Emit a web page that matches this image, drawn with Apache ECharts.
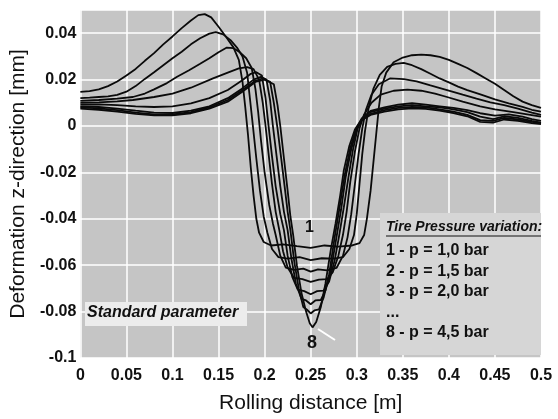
<!DOCTYPE html>
<html>
<head>
<meta charset="utf-8">
<script src="https://cdn.jsdelivr.net/npm/echarts@6.0.0/dist/echarts.min.js"></script>
<style>
html,body{margin:0;padding:0;background:#fff;}
#chart{width:558px;height:419px;}
</style>
</head>
<body>
<div id="chart"></div>
<script>
// x tick values (m) and y tick values (mm)
const xTicks = [0, 0.05, 0.1, 0.15, 0.2, 0.25, 0.3, 0.35, 0.4, 0.45, 0.5];
const yTicks = [-0.1, -0.08, -0.06, -0.04, -0.02, 0, 0.02, 0.04];

const seriesNames = ['1 - p = 1,0 bar','2 - p = 1,5 bar','3 - p = 2,0 bar','4 - p = 2,5 bar','5 - p = 3,0 bar','6 - p = 3,5 bar','7 - p = 4,0 bar','8 - p = 4,5 bar'];

const curve1 = [[0,0.0147],[0.01,0.0150],[0.02,0.0158],[0.03,0.0172],[0.04,0.0192],[0.05,0.0218],[0.06,0.0246],[0.07,0.0281],[0.08,0.0314],[0.09,0.0352],[0.10,0.0386],[0.11,0.0422],[0.12,0.0455],[0.128,0.0478],[0.135,0.0482],[0.142,0.0468],[0.150,0.0428],[0.158,0.0385],[0.166,0.0340],[0.172,0.0285],[0.176,0.0190],[0.179,0.0080],[0.182,-0.0040],[0.185,-0.0180],[0.188,-0.0300],[0.191,-0.0400],[0.194,-0.0460],[0.199,-0.0500],[0.207,-0.0515],[0.22,-0.0510],[0.235,-0.0518],[0.25,-0.0525],[0.265,-0.0515],[0.28,-0.0520],[0.295,-0.0515],[0.303,-0.0505],[0.308,-0.0470],[0.311,-0.0400],[0.315,-0.0280],[0.318,-0.0160],[0.321,-0.0040],[0.324,0.0080],[0.327,0.0170],[0.332,0.0230],[0.340,0.0275],[0.350,0.0295],[0.360,0.0305],[0.370,0.0308],[0.380,0.0305],[0.390,0.0298],[0.400,0.0285],[0.410,0.0268],[0.420,0.0250],[0.430,0.0228],[0.440,0.0205],[0.450,0.0182],[0.460,0.0155],[0.470,0.0128],[0.480,0.0105],[0.490,0.0090],[0.500,0.0078]];
const curve2 = [[0,0.0120],[0.01,0.0122],[0.02,0.0125],[0.03,0.0128],[0.04,0.0134],[0.05,0.0148],[0.06,0.0172],[0.07,0.0203],[0.08,0.0232],[0.09,0.0262],[0.10,0.0292],[0.11,0.0320],[0.12,0.0352],[0.13,0.0378],[0.14,0.0398],[0.147,0.0405],[0.155,0.0395],[0.163,0.0370],[0.170,0.0338],[0.176,0.0300],[0.181,0.0230],[0.184,0.0120],[0.187,0.0010],[0.191,-0.0140],[0.195,-0.0280],[0.199,-0.0390],[0.203,-0.0460],[0.208,-0.0530],[0.215,-0.0565],[0.225,-0.0572],[0.238,-0.0565],[0.25,-0.0578],[0.262,-0.0570],[0.275,-0.0572],[0.285,-0.0565],[0.292,-0.0530],[0.297,-0.0470],[0.300,-0.0380],[0.303,-0.0250],[0.306,-0.0120],[0.309,-0.0020],[0.313,0.0080],[0.318,0.0160],[0.325,0.0220],[0.333,0.0255],[0.342,0.0268],[0.351,0.0272],[0.360,0.0262],[0.370,0.0245],[0.380,0.0225],[0.390,0.0205],[0.400,0.0188],[0.410,0.0170],[0.420,0.0155],[0.435,0.0135],[0.450,0.0115],[0.465,0.0098],[0.480,0.0082],[0.490,0.0070],[0.500,0.0062]];
const curve3 = [[0,0.0108],[0.02,0.0112],[0.04,0.0118],[0.057,0.0125],[0.07,0.0140],[0.08,0.0158],[0.094,0.0185],[0.105,0.0212],[0.118,0.0240],[0.13,0.0268],[0.14,0.0292],[0.15,0.0318],[0.159,0.0338],[0.166,0.0336],[0.173,0.0318],[0.180,0.0292],[0.186,0.0250],[0.190,0.0160],[0.193,0.0060],[0.196,-0.0060],[0.200,-0.0200],[0.205,-0.0340],[0.209,-0.0420],[0.212,-0.0470],[0.217,-0.0560],[0.223,-0.0610],[0.232,-0.0620],[0.242,-0.0615],[0.25,-0.0628],[0.258,-0.0618],[0.268,-0.0622],[0.278,-0.0612],[0.285,-0.0560],[0.290,-0.0480],[0.294,-0.0380],[0.298,-0.0250],[0.302,-0.0120],[0.306,-0.0010],[0.310,0.0070],[0.316,0.0135],[0.324,0.0180],[0.336,0.0205],[0.351,0.0202],[0.365,0.0192],[0.380,0.0175],[0.398,0.0155],[0.415,0.0135],[0.430,0.0118],[0.445,0.0102],[0.460,0.0090],[0.475,0.0075],[0.490,0.0058],[0.500,0.0048]];
const curve4 = [[0,0.0100],[0.02,0.0102],[0.04,0.0106],[0.057,0.0112],[0.08,0.0125],[0.10,0.0140],[0.12,0.0165],[0.144,0.0205],[0.16,0.0230],[0.172,0.0248],[0.181,0.0254],[0.188,0.0245],[0.194,0.0200],[0.198,0.0100],[0.201,0.0000],[0.204,-0.0110],[0.208,-0.0250],[0.212,-0.0370],[0.216,-0.0450],[0.220,-0.0540],[0.225,-0.0610],[0.232,-0.0655],[0.241,-0.0660],[0.25,-0.0672],[0.259,-0.0662],[0.268,-0.0660],[0.274,-0.0630],[0.280,-0.0560],[0.285,-0.0470],[0.289,-0.0370],[0.293,-0.0240],[0.298,-0.0110],[0.303,-0.0010],[0.308,0.0050],[0.316,0.0100],[0.326,0.0135],[0.340,0.0152],[0.355,0.0157],[0.370,0.0152],[0.385,0.0140],[0.398,0.0125],[0.415,0.0105],[0.434,0.0085],[0.450,0.0072],[0.470,0.0060],[0.485,0.0050],[0.500,0.0040]];
const curve5 = [[0,0.0092],[0.02,0.0093],[0.04,0.0090],[0.06,0.0085],[0.08,0.0082],[0.10,0.0085],[0.12,0.0098],[0.14,0.0120],[0.16,0.0155],[0.175,0.0195],[0.185,0.0225],[0.191,0.0232],[0.197,0.0218],[0.201,0.0120],[0.204,0.0010],[0.208,-0.0130],[0.212,-0.0260],[0.217,-0.0380],[0.221,-0.0450],[0.225,-0.0560],[0.230,-0.0650],[0.236,-0.0705],[0.243,-0.0712],[0.25,-0.0725],[0.257,-0.0712],[0.264,-0.0710],[0.270,-0.0670],[0.276,-0.0580],[0.281,-0.0470],[0.286,-0.0350],[0.291,-0.0220],[0.296,-0.0100],[0.301,-0.0010],[0.306,0.0035],[0.315,0.0065],[0.330,0.0080],[0.345,0.0092],[0.360,0.0098],[0.375,0.0092],[0.390,0.0085],[0.405,0.0078],[0.420,0.0068],[0.434,0.0055],[0.450,0.0045],[0.465,0.0050],[0.480,0.0040],[0.490,0.0030],[0.500,0.0022]];
const curve6 = [[0,0.0085],[0.02,0.0082],[0.04,0.0075],[0.06,0.0066],[0.08,0.0058],[0.10,0.0056],[0.12,0.0066],[0.14,0.0085],[0.16,0.0120],[0.175,0.0160],[0.188,0.0200],[0.196,0.0212],[0.202,0.0200],[0.206,0.0110],[0.209,0.0000],[0.213,-0.0130],[0.217,-0.0260],[0.221,-0.0370],[0.225,-0.0450],[0.229,-0.0570],[0.234,-0.0680],[0.240,-0.0745],[0.245,-0.0752],[0.25,-0.0768],[0.255,-0.0752],[0.261,-0.0750],[0.266,-0.0710],[0.272,-0.0620],[0.278,-0.0480],[0.283,-0.0360],[0.288,-0.0220],[0.294,-0.0100],[0.300,-0.0015],[0.305,0.0030],[0.315,0.0060],[0.330,0.0075],[0.345,0.0085],[0.360,0.0090],[0.375,0.0085],[0.390,0.0080],[0.405,0.0072],[0.420,0.0060],[0.434,0.0040],[0.448,0.0030],[0.460,0.0042],[0.475,0.0035],[0.490,0.0022],[0.500,0.0015]];
const curve7 = [[0,0.0080],[0.02,0.0076],[0.04,0.0068],[0.06,0.0058],[0.08,0.0050],[0.10,0.0050],[0.12,0.0060],[0.14,0.0080],[0.16,0.0112],[0.175,0.0152],[0.19,0.0195],[0.198,0.0205],[0.206,0.0190],[0.210,0.0100],[0.214,-0.0010],[0.218,-0.0140],[0.222,-0.0270],[0.225,-0.0370],[0.228,-0.0450],[0.232,-0.0580],[0.237,-0.0700],[0.242,-0.0780],[0.246,-0.0792],[0.25,-0.0808],[0.254,-0.0795],[0.259,-0.0790],[0.264,-0.0740],[0.270,-0.0640],[0.276,-0.0480],[0.281,-0.0360],[0.287,-0.0210],[0.293,-0.0095],[0.299,-0.0015],[0.305,0.0025],[0.315,0.0052],[0.330,0.0068],[0.345,0.0078],[0.360,0.0082],[0.375,0.0080],[0.390,0.0072],[0.405,0.0062],[0.420,0.0048],[0.434,0.0025],[0.448,0.0022],[0.460,0.0035],[0.475,0.0028],[0.490,0.0018],[0.500,0.0012]];
const curve8 = [[0,0.0075],[0.02,0.0070],[0.04,0.0062],[0.06,0.0052],[0.08,0.0046],[0.10,0.0046],[0.12,0.0055],[0.14,0.0075],[0.16,0.0105],[0.175,0.0145],[0.19,0.0190],[0.200,0.0200],[0.210,0.0180],[0.214,0.0090],[0.217,0.0000],[0.221,-0.0140],[0.225,-0.0280],[0.228,-0.0390],[0.231,-0.0470],[0.235,-0.0600],[0.240,-0.0720],[0.245,-0.0800],[0.249,-0.0850],[0.252,-0.0868],[0.256,-0.0845],[0.261,-0.0780],[0.266,-0.0680],[0.272,-0.0530],[0.277,-0.0420],[0.282,-0.0300],[0.286,-0.0190],[0.292,-0.0085],[0.298,-0.0015],[0.304,0.0022],[0.315,0.0048],[0.330,0.0062],[0.345,0.0072],[0.360,0.0076],[0.375,0.0074],[0.390,0.0066],[0.405,0.0056],[0.420,0.0042],[0.434,0.0018],[0.448,0.0015],[0.460,0.0028],[0.475,0.0022],[0.490,0.0012],[0.500,0.0008]];

const curves = [curve1, curve2, curve3, curve4, curve5, curve6, curve7, curve8];

const legendTitle = 'Tire Pressure variation:';
const legendLines = ['1 - p = 1,0 bar', '2 - p = 1,5 bar', '3 - p = 2,0 bar', '...', '8 - p = 4,5 bar'];
const noteText = 'Standard parameter';

const FONT = '"Liberation Sans", Arial, sans-serif';
const chart = echarts.init(document.getElementById('chart'), null, {renderer: 'canvas'});

function fmt(v) {
  const r = Math.round(v * 1000) / 1000;
  return r === 0 ? '0' : String(r);
}

const graphic = [
  {type: 'rect', z: 5, shape: {x: 380, y: 213, width: 161, height: 142}, style: {fill: '#d6d6d6'}},
  {type: 'text', z: 6, x: 386, y: 220, style: {text: legendTitle, font: 'italic bold 14px ' + FONT, fill: '#111'}},
  {type: 'line', z: 6, shape: {x1: 386, y1: 236, x2: 541, y2: 236}, style: {stroke: '#111', lineWidth: 1}},
  {type: 'rect', z: 5, shape: {x: 85, y: 302, width: 162, height: 24}, style: {fill: '#ececec'}},
  {type: 'text', z: 6, x: 87, y: 305, style: {text: noteText, font: 'italic bold 16px ' + FONT, fill: '#111'}},
  {type: 'text', z: 6, x: 305, y: 220, style: {text: '1', font: 'bold 16px ' + FONT, fill: '#111'}},
  {type: 'text', z: 6, x: 307, y: 334, style: {text: '8', font: 'bold 18px ' + FONT, fill: '#111'}},
  {type: 'line', z: 6, shape: {x1: 318, y1: 329, x2: 335, y2: 340}, style: {stroke: '#fff', lineWidth: 2}}
];
legendLines.forEach((t, i) => {
  graphic.push({type: 'text', z: 6, x: 386, y: 243 + i * 20.5, style: {text: t, font: 'bold 16px ' + FONT, fill: '#111'}});
});

const option = {
  animation: false,
  backgroundColor: '#ffffff',
  grid: {left: 80, right: 17, top: 10, bottom: 61, show: true, backgroundColor: '#c5c5c5', borderWidth: 0},
  xAxis: {
    type: 'value', min: xTicks[0], max: xTicks[xTicks.length - 1], interval: 0.05,
    axisLine: {show: false}, axisTick: {show: false},
    splitLine: {show: true, lineStyle: {color: '#ffffff', width: 1.5}},
    axisLabel: {formatter: fmt, margin: 10, fontFamily: FONT, fontSize: 16, fontWeight: 'bold', color: '#111'},
    name: 'Rolling distance [m]', nameLocation: 'middle', nameGap: 35,
    nameTextStyle: {fontFamily: FONT, fontSize: 21, color: '#111'}
  },
  yAxis: {
    type: 'value', min: yTicks[0], max: 0.05, interval: 0.02,
    axisLine: {show: false}, axisTick: {show: false},
    splitLine: {show: true, lineStyle: {color: '#ffffff', width: 1.5}},
    axisLabel: {formatter: fmt, margin: 4, showMaxLabel: false, fontFamily: FONT, fontSize: 16, fontWeight: 'bold', color: '#111'},
    name: 'Deformation z-direction [mm]', nameLocation: 'middle', nameGap: 47,
    nameTextStyle: {fontFamily: FONT, fontSize: 21, color: '#111'}
  },
  series: curves.map((c, i) => ({
    name: seriesNames[i], type: 'line', data: c, showSymbol: false, symbol: 'none',
    lineStyle: {color: '#0a0a0a', width: 1.8}, z: 3
  })),
  graphic: graphic
};
chart.setOption(option);
</script>
</body>
</html>
